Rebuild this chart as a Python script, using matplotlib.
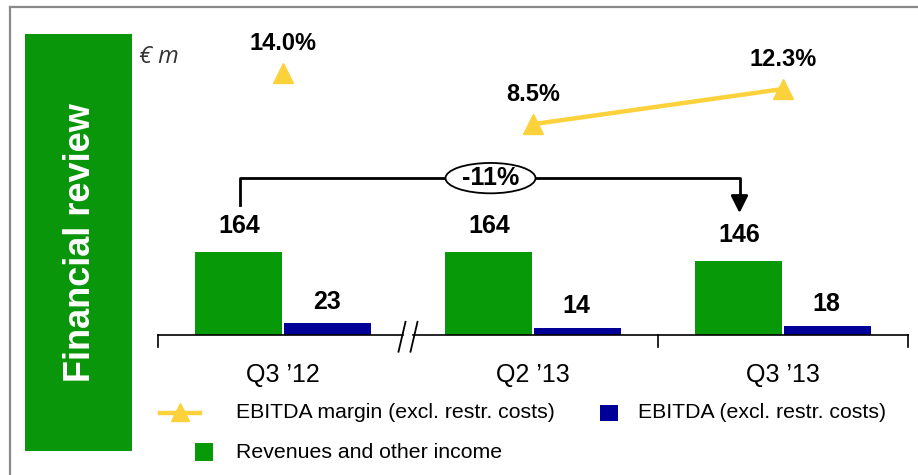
import matplotlib
matplotlib.use("Agg")
import matplotlib.pyplot as plt
from matplotlib.patches import Rectangle, Ellipse
from matplotlib.lines import Line2D
import numpy as np

plt.rcParams['font.family'] = ['Liberation Sans', 'DejaVu Sans']

categories = ["Q3 \u201912", "Q2 \u201913", "Q3 \u201913"]
revenues = [164, 164, 146]
ebitda = [23, 14, 18]
margin = [14.0, 8.5, 12.3]
margin_labels = ["14.0%", "8.5%", "12.3%"]
change_label = "-11%"

GREEN = "#079907"
BLUE = "#000099"
YELLOW = "#FCD23C"

W, H = 918, 475
fig = plt.figure(figsize=(W / 100, H / 100), dpi=100)

def fx(px):
    return px / W

def fy(py):
    return 1 - py / H

# frame
fig.add_artist(Line2D([fx(10), fx(10)], [fy(7), 0], color="#8a8a8a", lw=1.6))
fig.add_artist(Line2D([fx(10), 1], [fy(7), fy(7)], color="#8a8a8a", lw=1.6))

# green side box
fig.add_artist(Rectangle((fx(25), fy(451)), fx(132) - fx(25), fy(34) - fy(451),
                         facecolor="#0A960A", edgecolor="none"))
fig.text(fx(80), fy(243), "Financial review", rotation=90, color="white",
         fontsize=26, fontweight="bold", ha="center", va="center")
fig.text(fx(139), fy(57), "\u20ac m", fontsize=17, style="italic", color="#333333",
         ha="left", va="center", family=["Open Sans", "DejaVu Sans"])

# main axes: baseline at y=335 px, top at 10 px; x from 155 to 918 px
ax_left, ax_right = 155, 918
ax_bottom, ax_top = 335, 10
ax = fig.add_axes([fx(ax_left), fy(ax_bottom), fx(ax_right) - fx(ax_left), fy(ax_top) - fy(ax_bottom)])
px_per_unit_x = 250.0
x0_px = 283.0
ax.set_xlim((ax_left - x0_px) / px_per_unit_x, (ax_right - x0_px) / px_per_unit_x)
rev_scale = 0.506
ax.set_ylim(0, (ax_bottom - ax_top) / rev_scale)
ax.axis("off")

x = np.arange(len(categories))
bw = 0.348
ax.bar(x - bw / 2 - 0.003, revenues, width=bw, color=GREEN, zorder=2)
ax.bar(x + bw / 2 + 0.003, ebitda, width=bw, color=BLUE, zorder=2)

for xi, v in zip(x - bw / 2, revenues):
    ax.annotate(str(v), (xi, v), xytext=(0, 10), textcoords="offset points",
                ha="center", va="bottom", fontsize=18, fontweight="bold")
for xi, v in zip(x + bw / 2, ebitda):
    ax.annotate(str(v), (xi, v), xytext=(0, 7), textcoords="offset points",
                ha="center", va="bottom", fontsize=18, fontweight="bold")

# baseline with break
ax.plot([-0.5, 0.48], [0, 0], color="black", lw=1.2, clip_on=False)
ax.plot([0.52, 2.5], [0, 0], color="black", lw=1.2, clip_on=False)
tick_len = 24
for t in [-0.5, 1.5, 2.5]:
    ax.plot([t, t], [0, -tick_len], color="black", lw=1.2, clip_on=False)
for dx in [-0.024, 0.024]:
    ax.plot([0.5 + dx + 0.014, 0.5 + dx - 0.014], [26, -33], color="black", lw=1.3, clip_on=False)

for xi, c in zip(x, categories):
    ax.text(xi, -79, c, ha="center", va="center", fontsize=18)

# bracket with change
bx1, bx2 = x[0] - bw / 2, x[2] - bw / 2
by = 310
ax.plot([bx1, bx1, bx2, bx2], [257, by, by, 262], color="black", lw=2, zorder=3)
ax.annotate("", xy=(bx2, 241), xytext=(bx2, 266),
            arrowprops=dict(arrowstyle="-|>", color="black", lw=2, mutation_scale=26,
                            shrinkA=0, shrinkB=0))
ex = 0.83
ax.add_patch(Ellipse((ex, by), 0.36, 60, facecolor="white", edgecolor="black", lw=1.3, zorder=4))
ax.text(ex, by, change_label, ha="center", va="center", fontsize=18, fontweight="bold", zorder=5)

# margin axis
ax2 = ax.twinx()
m_scale = 9.27
zero_px = 203.0
ax2.set_ylim((zero_px - ax_bottom) / m_scale, (zero_px - ax_top) / m_scale)
ax2.set_xlim(ax.get_xlim())
ax2.axis("off")
ax2.plot(x[1:], margin[1:], color=YELLOW, lw=3.2, zorder=3)
ax2.plot(x, margin, linestyle="none", marker="^", ms=15, color=YELLOW, zorder=4)
for xi, v, lab in zip(x, margin, margin_labels):
    ax2.annotate(lab, (xi, v), xytext=(0, 13), textcoords="offset points",
                 ha="center", va="bottom", fontsize=17, fontweight="bold")

# legend
fig.add_artist(Line2D([fx(160), fx(200)], [fy(413), fy(413)], color=YELLOW, lw=3.2))
fig.add_artist(Line2D([fx(180)], [fy(412)], marker="^", ms=13, color=YELLOW, linestyle="none"))
fig.text(fx(236), fy(413), "EBITDA margin (excl. restr. costs)", fontsize=15.3, ha="left", va="center")
fig.add_artist(Rectangle((fx(600), fy(421)), fx(618) - fx(600), fy(405) - fy(421),
                         facecolor=BLUE, edgecolor="none"))
fig.text(fx(638), fy(413), "EBITDA (excl. restr. costs)", fontsize=15.3, ha="left", va="center")
fig.add_artist(Rectangle((fx(195), fy(461)), fx(213) - fx(195), fy(443) - fy(461),
                         facecolor=GREEN, edgecolor="none"))
fig.text(fx(236), fy(453), "Revenues and other income", fontsize=15.3, ha="left", va="center")

fig.savefig("out.png", dpi=100)
